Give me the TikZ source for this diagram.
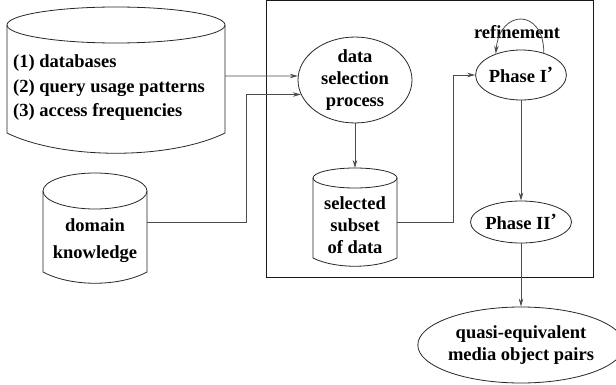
\documentclass[tikz,border=0pt]{standalone}
\usepackage{fontspec}
\setmainfont{Liberation Serif}
\usetikzlibrary{arrows.meta,
	shapes.geometric,
	calc}
\tikzstyle{lbl}=[font=\fontsize{18.5}{22}\selectfont\bfseries, inner sep=0, align=center]
\tikzstyle{drum}=[draw=black!85, line width=0.8pt]
\tikzstyle{proc}=[draw=black!85, line width=0.8pt, ellipse, inner sep=0, lbl]
\tikzstyle{conn}=[draw=black!70, line width=0.8pt, -{Stealth[length=8pt,width=4.5pt]}]
\tikzstyle{frame}=[draw=black!90, line width=1pt]

\begin{document}
\begin{tikzpicture}[x=1pt, y=1pt]
	\useasboundingbox (0,0) rectangle (616,384);
	% inputs
	\draw[drum] (116,359) ellipse [x radius=109, y radius=18];
	\draw[drum] (7,359) -- (7,251) .. controls +(55,-27) and +(-55,-27) .. (225,251) -- (225,359);
	\node[lbl, align=left, anchor=west, font=\fontsize{18.5}{24.5}\selectfont\bfseries] (db) at (13,296)
		{(1) databases\\(2) query usage patterns\\(3) access frequencies};
	\coordinate (db-out) at (225,308);

	\draw[drum] (95,193) ellipse [x radius=52, y radius=18];
	\draw[drum] (43,193) -- (43,112) .. controls +(28,-15) and +(-28,-15) .. (147,112) -- (147,193);
	\node[lbl, font=\fontsize{18.5}{27}\selectfont\bfseries] (kb) at (95,143) {domain\\knowledge};
	\coordinate (kb-out) at (147,162);

	% system box
	\draw[frame] (266,107) rectangle (593,383);

	\node[proc, minimum width=114, minimum height=74] (dsp) at (355,304) {data\\selection\\process};

	\draw[drum] (355,206) ellipse [x radius=42, y radius=10];
	\draw[drum] (313,206) -- (313,126) .. controls +(22,-11) and +(-22,-11) .. (397,126) -- (397,206);
	\node[lbl] (sel) at (355,159) {selected\\subset\\of data};
	\coordinate (sel-top) at (355,216);
	\coordinate (sel-out) at (397,162);

	\node[proc, minimum width=85, minimum height=50] (ph1) at (521,309) {Phase I\raisebox{3pt}{'}};
	\node[proc, minimum width=86, minimum height=42] (ph2) at (521,162) {Phase II\raisebox{3pt}{'}};
	\node[proc, minimum width=182, minimum height=76] (qeq) at (521,39) {quasi-equivalent\\media object pairs};
	\node[lbl] (ref) at (517,352) {refinement};

	% flows
	\draw[conn] (db-out) -- (dsp.176);
	\draw[conn] (kb-out) -- (246,162) |- (dsp.195);
	\draw[conn] (dsp.south) -- (sel-top);
	\draw[conn] (sel-out) -- (453,162) |- (ph1.west);
	\draw[conn] (ph1.44) .. controls +(0,45) and +(4,45) .. (ph1.140);
	\draw[conn] (ph1.south) -- (ph2.north);
	\draw[conn] (ph2.south) -- (qeq.north);
\end{tikzpicture}
\end{document}
